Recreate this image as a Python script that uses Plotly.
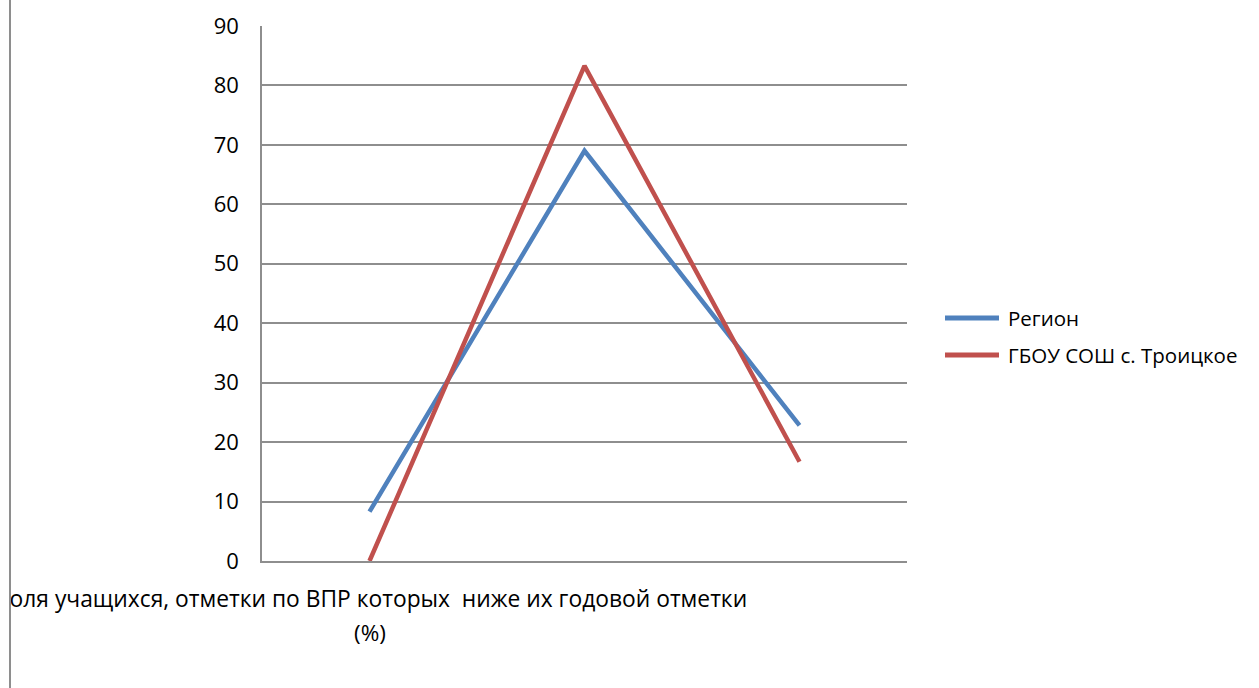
import plotly.graph_objects as go

# Data
categories = [0, 1, 2]
category_label_line1 = "Доля учащихся, отметки по ВПР которых \u00a0ниже их годовой отметки"
category_label_line2 = "(%)"
series_names = ["Регион", "ГБОУ СОШ с. Троицкое"]
region_values = [8.3, 69.0, 22.8]
school_values = [0.0, 83.3, 16.7]
series_colors = ["#4F81BD", "#C0504D"]
y_ticks = [0, 10, 20, 30, 40, 50, 60, 70, 80, 90]

FONT = "Open Sans"
W, H = 1259, 688
L, R, T, B = 262, 352, 26, 127
pw, ph = W - L - R, H - T - B


def px_x(p):
    return (p - L) / pw


def px_y(p):
    return (H - B - p) / ph


fig = go.Figure()
for name, vals, col in zip(series_names, [region_values, school_values], series_colors):
    fig.add_trace(go.Scatter(x=categories, y=vals, mode="lines", name=name,
                             line=dict(color=col, width=4.5), showlegend=False))

grid = "#8E8E8E"
fig.update_layout(
    width=W, height=H,
    margin=dict(l=L, r=R, t=T, b=B),
    paper_bgcolor="white", plot_bgcolor="white",
    font=dict(family=FONT, size=22, color="#000000"),
    xaxis=dict(range=[-0.5, 2.5], showticklabels=False, showgrid=False,
               zeroline=False, showline=True, linecolor=grid, linewidth=1.5,
               fixedrange=True),
    yaxis=dict(range=[0, 90], tickvals=y_ticks, showgrid=True, gridcolor=grid,
               gridwidth=1.5, zeroline=False, showline=True, linecolor=grid,
               linewidth=1.5, ticklabelstandoff=17, automargin=False,
               tickfont=dict(family=FONT, size=22, color="#000000")),
)

annotations = [
    dict(x=0, xref="x", xshift=1, y=px_y(598), yref="paper", text=category_label_line1,
         showarrow=False, xanchor="center", yanchor="middle",
         font=dict(family=FONT, size=22.8)),
    dict(x=0, xref="x", y=px_y(632), yref="paper", text=category_label_line2,
         showarrow=False, xanchor="center", yanchor="middle",
         font=dict(family=FONT, size=22.5)),
    # white panel left of the frame edge, then the frame edge itself
    dict(x=px_x(0), xref="paper", y=px_y(688), yref="paper", text=" ",
         showarrow=False, xanchor="left", yanchor="bottom", width=11, height=688,
         bgcolor="white", borderpad=0, borderwidth=0),
    dict(x=px_x(9), xref="paper", y=px_y(688), yref="paper", text=" ",
         showarrow=False, xanchor="left", yanchor="bottom", width=2, height=688,
         bgcolor="#8E8E8E", borderpad=0, borderwidth=0),
]

shapes = []

# Legend entries
legend_rows = [318, 355]
for name, col, yy in zip(series_names, series_colors, legend_rows):
    shapes.append(dict(type="line", xref="paper", yref="paper",
                       x0=px_x(945), x1=px_x(999), y0=px_y(yy), y1=px_y(yy),
                       line=dict(color=col, width=5)))
    annotations.append(dict(x=px_x(1006), xref="paper", y=px_y(yy), yref="paper",
                            text=name, showarrow=False, xanchor="left",
                            yanchor="middle", font=dict(family=FONT, size=20.5)))

fig.update_layout(shapes=shapes, annotations=annotations)
fig.write_html("out.html")
